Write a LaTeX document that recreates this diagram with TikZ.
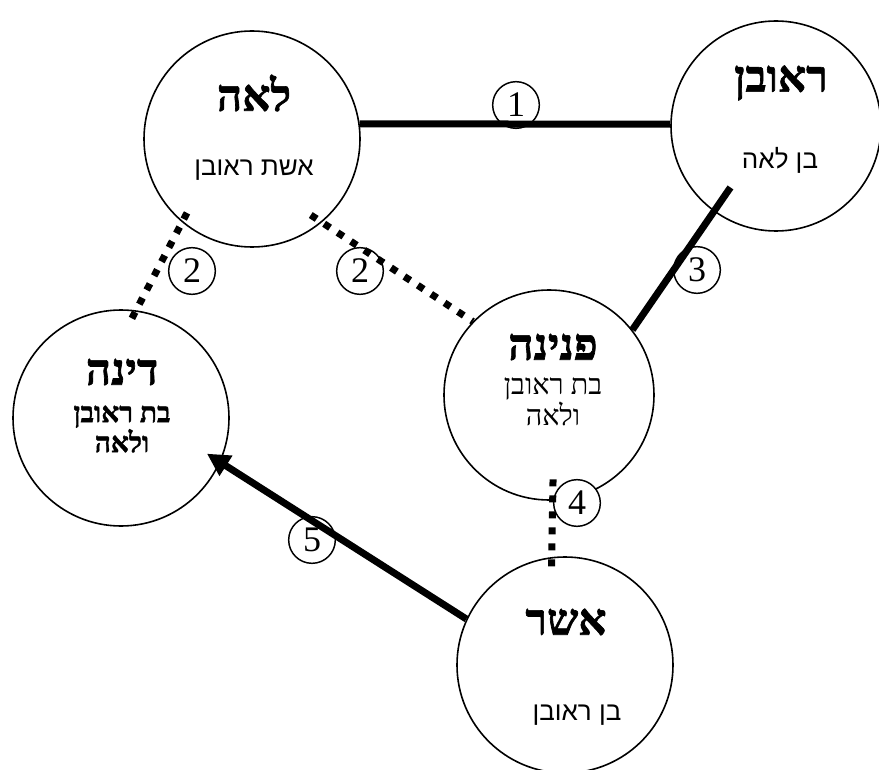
\documentclass[tikz,border=0pt]{standalone}
\usepackage{fontspec}
\setmainfont{Liberation Serif}
\newfontfamily\hebserif[Script=Hebrew]{Liberation Serif}
\newfontfamily\hebheavy[Script=Hebrew,FakeBold=1.5]{Liberation Serif Bold}
\newfontfamily\hebsans[Script=Hebrew]{Liberation Sans}
\TeXXeTstate=1
\usetikzlibrary{arrows.meta}

\tikzset{
  person/.style={draw,circle,line width=1.2pt,inner sep=0pt},
  tag/.style={draw,circle,fill=white,line width=1.1pt,minimum size=35pt,inner sep=0pt,
    font=\fontsize{27}{27}\selectfont},
  bond/.style={line width=5.25pt},
  dotbond/.style={line width=5.25pt,dash pattern=on 5.25pt off 6.75pt},
  title/.style={inner sep=0pt,font=\hebheavy\fontsize{33}{34}\selectfont},
  subsans/.style={inner sep=0pt,font=\hebsans\fontsize{19.5}{21}\selectfont},
  subserif/.style={inner sep=0pt,align=center,font=\hebserif\fontsize{21.5}{23}\selectfont},
  subbold/.style={inner sep=0pt,align=center,font=\hebheavy\fontsize{21}{21}\selectfont}
}

\begin{document}
\begin{tikzpicture}[x=0.75pt,y=-0.75pt]
  \useasboundingbox (0,0) rectangle (879,770);

  % people
  \node[person,minimum size=162pt] (leah) at (252,139) {};
  \node[person,minimum size=157.5pt] (reuven) at (776,126) {};
  \node[person,minimum size=162pt] (dinah) at (121,418) {};
  \node[person,minimum size=157.5pt] (pnina) at (549,395) {};
  \node[person,minimum size=162pt] (asher) at (565,665) {};

  % names
  \node[title] (leahT) at (254,93) {\beginR לאה\endR};
  \node[subsans] (leahS) at (254,170) {\beginR אשת ראובן\endR};
  \node[title] (reuvenT) at (781,83) {\beginR ראובן\endR};
  \node[subsans] (reuvenS) at (780,160) {\beginR בן לאה\endR};
  \node[title] (dinahT) at (122,372) {\beginR דינה\endR};
  \node[subbold] (dinahS) at (122,429) {\beginR בת ראובן\endR\\\beginR ולאה\endR};
  \node[title] (pninaT) at (553,347) {\beginR פנינה\endR};
  \node[subserif] (pninaS) at (553,402) {\beginR בת ראובן\endR\\\beginR ולאה\endR};
  \node[title] (asherT) at (566,622) {\beginR אשר\endR};
  \node[subsans] (asherS) at (577,715) {\beginR בן ראובן\endR};

  % numbers
  \node[tag] (n1) at (516,105) {1};
  \node[tag] (n2a) at (192,271) {2};
  \node[tag] (n2b) at (360,271) {2};
  \node[tag] (n3) at (697,270) {3};
  \node[tag] (n4) at (577,503) {4};
  \node[tag] (n5) at (312,540) {5};

  % links
  \draw[bond] (leah.8) -- (reuven.179);
  \draw[dotbond,shorten <=-8pt,shorten >=-13pt] (leah.230) -- (dinah.82);
  \draw[dotbond,shorten <=-10pt] (leah.310) -- (pnina.136);
  \draw[bond,shorten <=-22pt] (reuven.234) -- (pnina.38);
  \draw[dotbond,shorten <=-16pt,shorten >=-7pt] (pnina.-88) -- (asher.97);
  \draw[bond,-{Triangle[length=17pt,width=17pt]},shorten >=-12pt] (asher.155) -- (dinah.336);
\end{tikzpicture}
\end{document}
